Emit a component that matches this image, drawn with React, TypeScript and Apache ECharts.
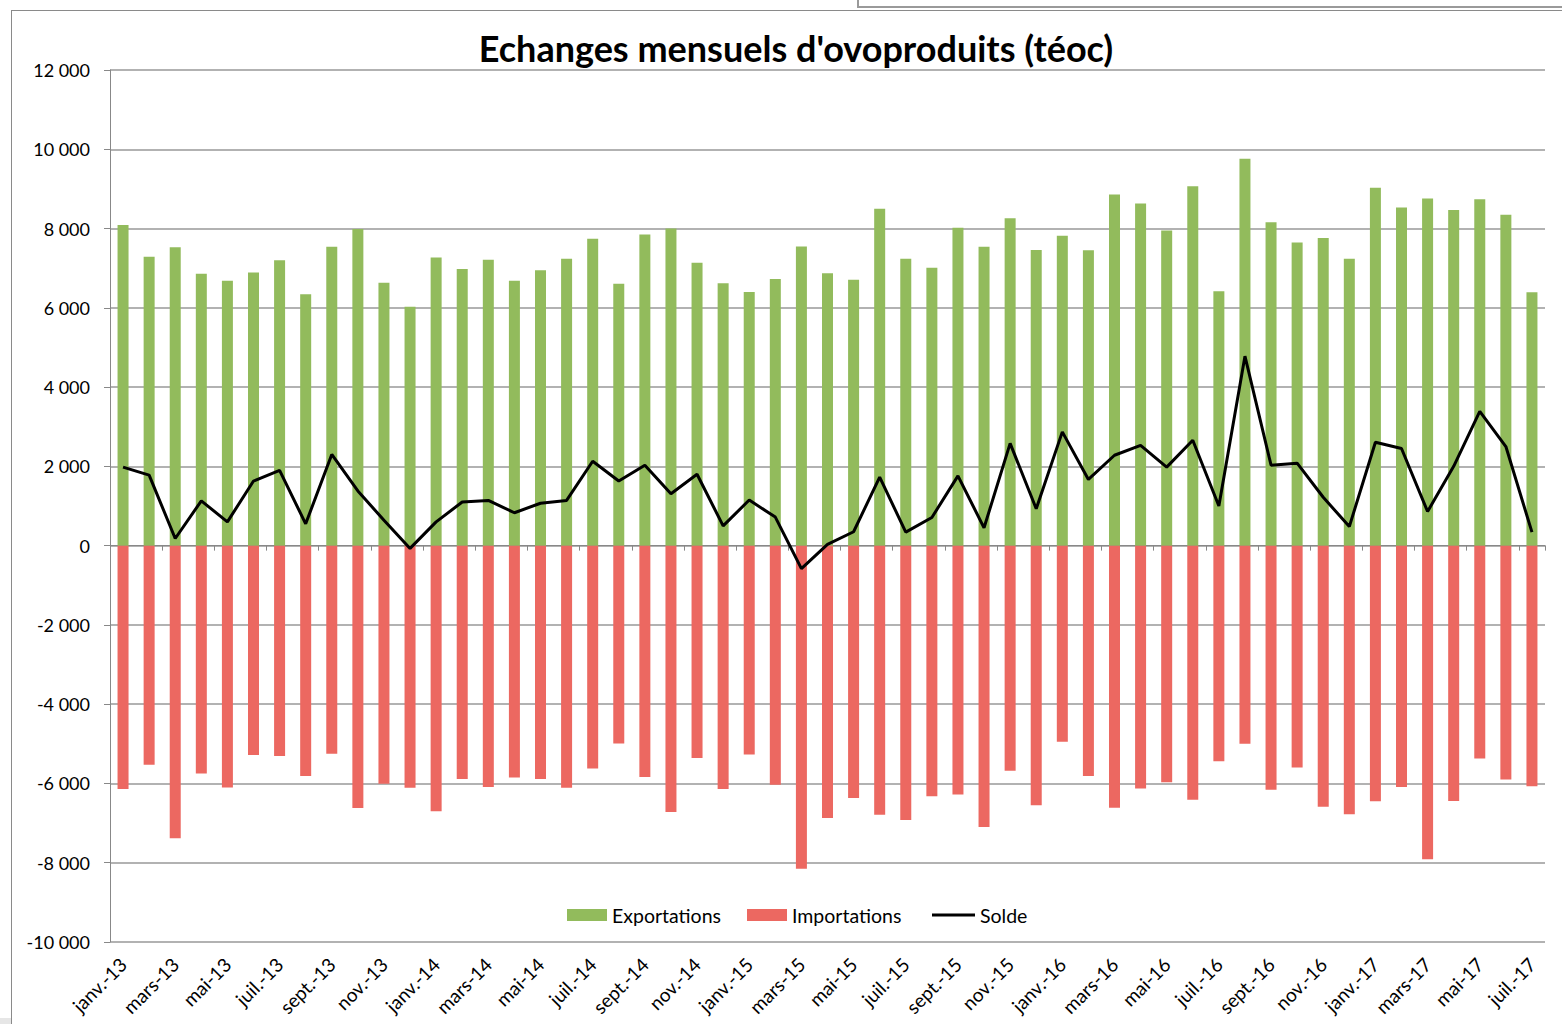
import React, { useEffect, useRef } from "react";
import * as echarts from "echarts";

const title = "Echanges mensuels d'ovoproduits (téoc)";
const monthNames = ["janv.", "févr.", "mars", "avr.", "mai", "juin", "juil.", "août", "sept.", "oct.", "nov.", "déc."];
const years = ["13", "14", "15", "16", "17"];
const lastYearMonths = 7;

const exportsData = [
  8090, 7290, 7530, 6860, 6680, 6890, 7200, 6340, 7540, 7990, 6630, 6030,
  7270, 6980, 7210, 6680, 6950, 7240, 7740, 6610, 7850, 8000, 7140, 6620,
  6400, 6730, 7550, 6870, 6710, 8500, 7240, 7010, 8020, 7540, 8260, 7460,
  7820, 7450, 8860, 8630, 7950, 9070, 6420, 9760, 8160, 7650, 7760, 7240,
  9030, 8530, 8760, 8470, 8740, 8350, 6390,
];
const importsData = [
  -6140, -5530, -7380, -5750, -6100, -5280, -5310, -5810, -5250, -6620, -6010, -6110,
  -6700, -5890, -6090, -5850, -5890, -6110, -5620, -4990, -5840, -6720, -5360, -6140,
  -5270, -6030, -8150, -6870, -6370, -6790, -6920, -6320, -6280, -7100, -5680, -6550,
  -4950, -5810, -6610, -6130, -5970, -6410, -5440, -5000, -6160, -5600, -6590, -6780,
  -6450, -6090, -7910, -6440, -5370, -5900, -6070,
];
const soldeData = [
  1980, 1780, 180, 1130, 600, 1630, 1900, 550, 2300, 1380, 640, -70,
  600, 1100, 1140, 830, 1070, 1140, 2130, 1630, 2030, 1310, 1800, 500,
  1150, 720, -580, 30, 350, 1730, 340, 710, 1760, 450, 2580, 930,
  2870, 1670, 2280, 2530, 1980, 2660, 1000, 4780, 2030, 2080, 1220, 480,
  2610, 2450, 860, 2000, 3390, 2500, 340,
];

const categories: string[] = [];
years.forEach((y, yi) => {
  const n = yi === years.length - 1 ? lastYearMonths : 12;
  for (let m = 0; m < n; m++) categories.push(`${monthNames[m]}-${y}`);
});

const FONT = "Lato, 'Open Sans', sans-serif";

function fmt(v: number): string {
  const s = Math.abs(v).toString().replace(/\B(?=(\d{3})+(?!\d))/g, " ");
  return (v < 0 ? "-" : "") + s;
}

export default function App() {
  const ref = useRef<HTMLDivElement>(null);
  useEffect(() => {
    if (!ref.current) return;
    const chart = echarts.init(ref.current, null, { renderer: "svg" });
    const legendText = { fontFamily: FONT, fontSize: 19.5, color: "#000" };
    chart.setOption({
      animation: false,
      backgroundColor: "#ffffff",
      title: {
        text: title,
        left: 791,
        textAlign: "center",
        top: 25,
        textStyle: { fontFamily: FONT, fontSize: 36, fontWeight: "bold", color: "#000" },
      },
      graphic: [
        { type: "line", shape: { x1: 11.5, y1: 10, x2: 11.5, y2: 1024 }, style: { stroke: "#8a8a8a", lineWidth: 1 } },
        { type: "line", shape: { x1: 11, y1: 10.5, x2: 1562, y2: 10.5 }, style: { stroke: "#8a8a8a", lineWidth: 1 } },
        { type: "rect", shape: { x: 858, y: -2, width: 710, height: 9 }, style: { fill: "#ffffff", stroke: "#9a9a9a", lineWidth: 2 } },
        { type: "rect", shape: { x: 0, y: 1018, width: 11, height: 6 }, style: { fill: "#e6e6e6" } },
      ],
      legend: [
        {
          top: 900,
          left: 562,
          itemWidth: 40,
          itemHeight: 12,
          itemGap: 26,
          textStyle: legendText,
          data: [
            { name: "Exportations", icon: "rect" },
            { name: "Importations", icon: "rect" },
          ],
        },
        {
          top: 900,
          left: 927,
          itemWidth: 43,
          itemHeight: 3,
          textStyle: legendText,
          data: [{ name: "Solde", icon: "rect" }],
        },
      ],
      grid: { left: 110, right: 17, top: 70, bottom: 82, containLabel: false },
      xAxis: [
        {
          type: "category",
          data: categories,
          position: "bottom",
          axisLine: { show: false, onZero: false },
          axisTick: { show: false },
          axisLabel: {
            interval: 1,
            rotate: 45,
            margin: 19,
            fontFamily: FONT,
            fontSize: 19,
            color: "#000",
          },
          splitLine: { show: false },
        },
        {
          type: "category",
          data: categories,
          position: "top",
          axisLine: { show: true, onZero: true, lineStyle: { color: "#888888", width: 1 } },
          axisTick: { show: true, inside: true, interval: 1, length: 5, lineStyle: { color: "#888888" } },
          axisLabel: { show: false },
          splitLine: { show: false },
        },
      ],
      yAxis: {
        type: "value",
        min: -10000,
        max: 12000,
        interval: 2000,
        axisLine: { show: true, lineStyle: { color: "#888888", width: 1 } },
        axisTick: { show: true, length: 6, lineStyle: { color: "#888888" } },
        axisLabel: {
          formatter: (v: number) => fmt(v),
          fontFamily: FONT,
          fontSize: 18,
          color: "#000",
          margin: 20,
        },
        splitLine: { show: true, lineStyle: { color: "#999999", width: 1.5 } },
      },
      series: [
        {
          name: "Exportations",
          type: "bar",
          data: exportsData,
          barWidth: 11,
          barGap: "-100%",
          itemStyle: { color: "#92BB5C" },
        },
        {
          name: "Importations",
          type: "bar",
          data: importsData,
          barWidth: 11,
          barGap: "-100%",
          itemStyle: { color: "#EC6861" },
        },
        {
          name: "Solde",
          type: "line",
          data: soldeData,
          symbol: "none",
          lineStyle: { color: "#000", width: 3 },
          itemStyle: { color: "#000" },
          z: 5,
        },
      ],
    });
    return () => chart.dispose();
  }, []);
  return (
    <div
      ref={ref}
      style={{ position: "fixed", left: 0, top: 0, width: 1562, height: 1024 }}
    />
  );
}
